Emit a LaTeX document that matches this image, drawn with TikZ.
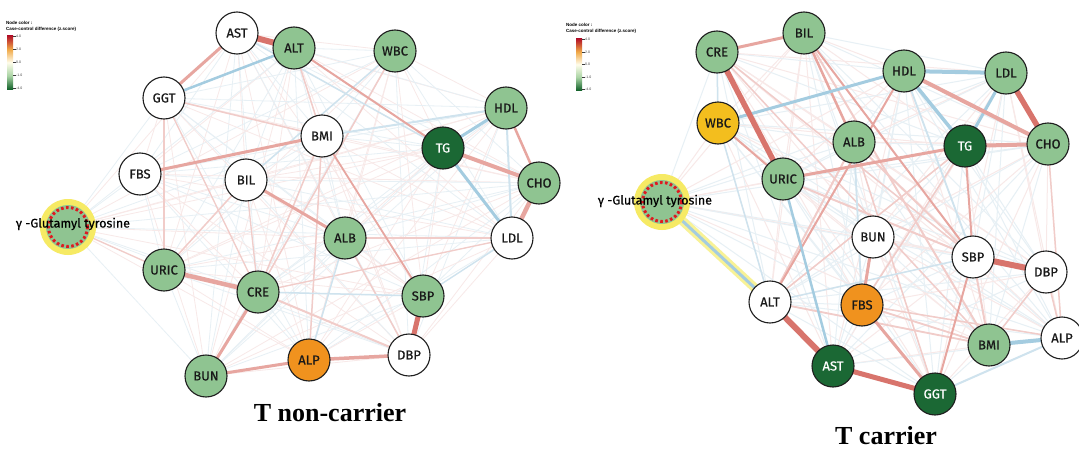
\documentclass[tikz,border=0pt]{standalone}
\usepackage{fontspec}
\setmainfont{Liberation Serif}
\newfontfamily\labfont{Fira Sans}[FakeBold=0.6]
\newfontfamily\legfont{Liberation Sans}
\usetikzlibrary{backgrounds}
\pgfdeclarelayer{bottom}
\pgfsetlayers{bottom,background,main}
\definecolor{ngreen}{RGB}{143,196,145}
\definecolor{ndark}{RGB}{27,104,52}
\definecolor{norange}{RGB}{240,146,30}
\definecolor{nyellow}{RGB}{243,190,30}
\definecolor{ndline}{RGB}{30,30,30}
\definecolor{eRD}{RGB}{216,116,108}
\definecolor{eRM}{RGB}{231,166,160}
\definecolor{eRL}{RGB}{241,204,201}
\definecolor{eBM}{RGB}{164,204,224}
\definecolor{eBL}{RGB}{207,227,238}
\definecolor{eRF}{RGB}{248,233,232}
\definecolor{eBF}{RGB}{231,240,245}
\definecolor{hyel}{RGB}{246,234,100}
\definecolor{hyelline}{RGB}{248,242,150}
\definecolor{gred}{RGB}{222,26,32}
\definecolor{zdg}{RGB}{22,100,45}
\definecolor{zlg}{RGB}{170,212,165}
\definecolor{zw}{RGB}{255,253,235}
\definecolor{zor}{RGB}{240,168,70}
\definecolor{zdr}{RGB}{180,20,40}
\definecolor{legtxt}{RGB}{60,60,60}
\pgfdeclareverticalshading{zscale}{100bp}{color(0bp)=(zdg); color(25bp)=(zdg); color(37.5bp)=(zlg); color(50bp)=(zw); color(62.5bp)=(zor); color(75bp)=(zdr); color(100bp)=(zdr)}
\tikzset{
  nd/.style={circle, draw=ndline, line width=1.1pt, minimum size=42pt, inner sep=0pt,
    font=\labfont\fontsize{13}{13}\selectfont, text=black!90},
  gn/.style={nd, fill=ngreen},
  dg/.style={nd, fill=ndark, text=white},
  wt/.style={nd, fill=white},
  og/.style={nd, fill=norange},
  yw/.style={nd, fill=nyellow},
  rD/.style={draw=eRD, line width=#1},
  rM/.style={draw=eRM, line width=#1},
  rL/.style={draw=eRL, line width=#1},
  bM/.style={draw=eBM, line width=#1},
  bL/.style={draw=eBL, line width=#1},
  gamring/.style={circle, fill=hyel, minimum size=56pt, inner sep=0pt},
  gamcore/.style={circle, fill=ngreen, minimum size=44pt, inner sep=0pt},
  gamdash/.style={gred, line width=3pt, dash pattern=on 2.6pt off 2.4pt},
  gamlab/.style={font=\labfont\fontsize{12.5}{12.5}\selectfont, text=black, inner sep=0pt},
  legtitle/.style={anchor=west, inner sep=0pt, font=\legfont\bfseries\fontsize{4.5}{4.5}\selectfont},
  legtick/.style={anchor=west, inner sep=0pt, text=legtxt, font=\legfont\fontsize{3.5}{3.5}\selectfont},
  ttl/.style={font=\fontsize{26}{26}\selectfont\bfseries, inner sep=0pt}
}
\begin{document}
\begin{tikzpicture}[x=1pt,y=-1pt]
\useasboundingbox (0,0) rectangle (1079,452);
\begin{pgfonlayer}{bottom}
\fill[white] (0,0) rectangle (1079,452);
\end{pgfonlayer}

% ---------------- left panel nodes ----------------
\node[wt] (LAST) at (237,33) {AST};
\node[gn] (LALT) at (294,48) {ALT};
\node[gn] (LWBC) at (395,51) {WBC};
\node[wt] (LGGT) at (164,98) {GGT};
\node[gn] (LHDL) at (506,108) {HDL};
\node[wt] (LBMI) at (322,136) {BMI};
\node[dg] (LTG) at (443,148) {TG};
\node[wt] (LFBS) at (140,174) {FBS};
\node[wt] (LBIL) at (246,180) {BIL};
\node[gn] (LCHO) at (539,183) {CHO};
\node[gn] (LALB) at (345,238) {ALB};
\node[wt] (LLDL) at (512,238) {LDL};
\node[gn] (LURIC) at (164,270) {URIC};
\node[gn] (LCRE) at (258,292) {CRE};
\node[gn] (LSBP) at (423,296) {SBP};
\node[wt] (LDBP) at (409,355) {DBP};
\node[og] (LALP) at (309,360) {ALP};
\node[gn] (LBUN) at (206,376) {BUN};
\node[gamring] (LgamR) at (68,227) {};
\node[gamcore] (Lgam) at (68,227) {};
\draw[gamdash] (Lgam.center) circle[radius=19.5pt];
\node[gamlab] (LgamT) at (73,224) {γ -Glutamyl tyrosine};

% ---------------- right panel nodes ----------------
\node[gn] (RBIL) at (804,33) {BIL};
\node[gn] (RCRE) at (717,52) {CRE};
\node[gn] (RHDL) at (904,71) {HDL};
\node[gn] (RLDL) at (1006,73) {LDL};
\node[yw] (RWBC) at (718,123) {WBC};
\node[gn] (RALB) at (854,142) {ALB};
\node[dg] (RTG) at (965,146) {TG};
\node[gn] (RCHO) at (1048,144) {CHO};
\node[gn] (RURIC) at (783,179) {URIC};
\node[wt] (RBUN) at (873,237) {BUN};
\node[wt] (RSBP) at (973,257) {SBP};
\node[wt] (RDBP) at (1046,272) {DBP};
\node[wt] (RALT) at (770,302) {ALT};
\node[og] (RFBS) at (862,305) {FBS};
\node[gn] (RBMI) at (989,345) {BMI};
\node[wt] (RALP) at (1062,338) {ALP};
\node[dg] (RAST) at (833,366) {AST};
\node[dg] (RGGT) at (935,394) {GGT};
\node[gamring] (RgamR) at (662,202) {};
\node[gamcore] (Rgam) at (662,202) {};
\draw[gamdash] (Rgam.center) circle[radius=19.5pt];
\node[gamlab] (RgamT) at (655,201) {γ -Glutamyl tyrosine};

% ---------------- edges ----------------
\begin{pgfonlayer}{background}
% faint web, left
\foreach \a [count=\i] in {LAST,LALT,LWBC,LGGT,LHDL,LBMI,LTG,LFBS,LBIL,LCHO,LALB,LLDL,LURIC,LCRE,LSBP,LDBP,LALP,LBUN,Lgam}{
  \foreach \b [count=\j] in {LAST,LALT,LWBC,LGGT,LHDL,LBMI,LTG,LFBS,LBIL,LCHO,LALB,LLDL,LURIC,LCRE,LSBP,LDBP,LALP,LBUN,Lgam}{
    \ifnum\j>\i
      \ifodd\numexpr\i+\j\relax
        \draw[eBF, line width=0.8pt] (\a.center) -- (\b.center);
      \else
        \draw[eRF, line width=0.8pt] (\a.center) -- (\b.center);
      \fi
    \fi
  }
}
% faint web, right
\foreach \a [count=\i] in {RBIL,RCRE,RHDL,RLDL,RWBC,RALB,RTG,RCHO,RURIC,RBUN,RSBP,RDBP,RALT,RFBS,RBMI,RALP,RAST,RGGT,Rgam}{
  \foreach \b [count=\j] in {RBIL,RCRE,RHDL,RLDL,RWBC,RALB,RTG,RCHO,RURIC,RBUN,RSBP,RDBP,RALT,RFBS,RBMI,RALP,RAST,RGGT,Rgam}{
    \ifnum\j>\i
      \ifodd\numexpr\i+\j\relax
        \draw[eBF, line width=1pt] (\a.center) -- (\b.center);
      \else
        \draw[eRF, line width=1pt] (\a.center) -- (\b.center);
      \fi
    \fi
  }
}
% left panel, visible edges
\draw[rL=1.5pt] (LGGT.center) -- (LURIC.center);
\draw[rL=1.5pt] (LGGT.center) -- (LBMI.center);
\draw[rL=1.3pt] (LGGT.center) -- (LCRE.center);
\draw[rL=1.5pt] (LWBC.center) -- (LCRE.center);
\draw[bL=1.5pt] (LWBC.center) -- (LBIL.center);
\draw[bL=1.5pt] (LAST.center) -- (LTG.center);
\draw[rL=1.5pt] (LALT.center) -- (LBMI.center);
\draw[rL=1.5pt] (LBMI.center) -- (LCRE.center);
\draw[rL=1.5pt] (LBMI.center) -- (LALP.center);
\draw[rL=1.5pt] (LBIL.center) -- (LURIC.center);
\draw[rL=1.3pt] (LBIL.center) -- (LCRE.center);
\draw[rL=1.3pt] (Lgam.center) -- (LURIC.center);
\draw[rL=1.3pt] (LALB.center) -- (LLDL.center);
\draw[rL=1.3pt] (LLDL.center) -- (LCRE.center);
\draw[bL=1.3pt] (LSBP.center) -- (LLDL.center);
\draw[rL=1.5pt] (LALB.center) -- (LDBP.center);
\draw[bL=1.5pt] (LALB.center) -- (LALP.center);
\draw[bL=1.5pt] (LCRE.center) -- (LSBP.center);
\draw[rL=2pt] (LCRE.center) -- (LDBP.center);
\draw[bL=2pt] (LBMI.center) -- (LHDL.center);
\draw[rM=1.8pt] (LBMI.center) -- (LSBP.center);
\draw[rM=2pt] (LALT.center) -- (LTG.center);
\draw[rM=3pt] (LFBS.center) -- (LBMI.center);
\draw[rM=3pt] (LBIL.center) -- (LALB.center);
\draw[rM=3pt] (LAST.center) -- (LGGT.center);
\draw[bM=2.5pt] (LGGT.center) -- (LALT.center);
\draw[bL=2pt] (LHDL.center) -- (LLDL.center);
\draw[rM=2.5pt] (LHDL.center) -- (LCHO.center);
\draw[bM=3pt] (LTG.center) -- (LHDL.center);
\draw[bM=3pt] (LTG.center) -- (LLDL.center);
\draw[rM=4pt] (LTG.center) -- (LCHO.center);
\draw[rM=4.5pt] (LCHO.center) -- (LLDL.center);
\draw[rM=4.5pt] (LURIC.center) -- (LCRE.center);
\draw[rM=3pt] (LCRE.center) -- (LBUN.center);
\draw[rM=3pt] (LBUN.center) -- (LALP.center);
\draw[rM=3.5pt] (LALP.center) -- (LDBP.center);
\draw[rD=5pt] (LSBP.center) -- (LDBP.center);
\draw[rD=6pt] (LAST.center) -- (LALT.center);

% right panel, visible edges
\draw[rL=1.5pt] (RCRE.center) -- (RSBP.center);
\draw[rL=1.5pt] (RCRE.center) -- (RBMI.center);
\draw[rL=1.5pt] (RALB.center) -- (RGGT.center);
\draw[rL=1.5pt] (RTG.center) -- (RALT.center);
\draw[rL=1.5pt] (RTG.center) -- (RFBS.center);
\draw[rL=1.5pt] (RDBP.center) -- (RALP.center);
\draw[rL=1.5pt] (RDBP.center) -- (RBMI.center);
\draw[rL=1.5pt] (RCHO.center) -- (RALP.center);
\draw[rL=1.8pt] (RFBS.center) -- (RBMI.center);
\draw[rL=1.8pt] (RALT.center) -- (RBMI.center);
\draw[rL=1.5pt] (RFBS.center) -- (RALP.center);
\draw[rL=2pt] (RURIC.center) -- (RSBP.center);
\draw[rL=2pt] (RALB.center) -- (RSBP.center);
\draw[rL=2pt] (RSBP.center) -- (RBMI.center);
\draw[rL=2pt] (RALB.center) -- (RALT.center);
\draw[rL=2pt] (RBIL.center) -- (RBMI.center);
\draw[bL=1.5pt] (RWBC.center) -- (RALT.center);
\draw[bL=1.8pt] (RALB.center) -- (RFBS.center);
\draw[bL=1.8pt] (RHDL.center) -- (RSBP.center);
\draw[bL=1.5pt] (RALT.center) -- (RSBP.center);
\draw[bL=1.5pt] (RWBC.center) -- (RCRE.center);
\draw[rM=2pt] (RBIL.center) -- (RSBP.center);
\draw[rM=2pt] (RHDL.center) -- (RALT.center);
\draw[rM=2pt] (RTG.center) -- (RSBP.center);
\draw[rM=2pt] (RSBP.center) -- (RGGT.center);
\draw[rM=2pt] (RWBC.center) -- (RURIC.center);
\draw[rM=2.5pt] (RBIL.center) -- (RALB.center);
\draw[rM=3pt] (RURIC.center) -- (RTG.center);
\draw[rM=3pt] (RBUN.center) -- (RFBS.center);
\draw[rM=3pt] (RFBS.center) -- (RGGT.center);
\draw[rM=3pt] (RCRE.center) -- (RBIL.center);
\draw[bM=2.5pt] (RURIC.center) -- (RAST.center);
\draw[bM=3pt] (RWBC.center) -- (RHDL.center);
\draw[bL=2pt] (RGGT.center) -- (RALP.center);
\draw[bM=4pt] (RBMI.center) -- (RALP.center);
\draw[bM=4pt] (RHDL.center) -- (RLDL.center);
\draw[bM=3.5pt] (RHDL.center) -- (RTG.center);
\draw[bM=3pt] (RLDL.center) -- (RTG.center);
\draw[rM=4pt] (RHDL.center) -- (RCHO.center);
\draw[rM=4pt] (RTG.center) -- (RCHO.center);
\draw[rD=5.5pt] (RLDL.center) -- (RCHO.center);
\draw[rD=5.5pt] (RCRE.center) -- (RURIC.center);
\draw[rD=6pt] (RSBP.center) -- (RDBP.center);
\draw[rD=6pt] (RALT.center) -- (RAST.center);
\draw[rD=5pt] (RAST.center) -- (RGGT.center);
\draw[draw=hyelline, line width=9pt] (Rgam.center) -- (RALT.center);
\draw[bM=3pt] (Rgam.center) -- (RALT.center);
\end{pgfonlayer}

% ---------------- legends ----------------
\node[legtitle] (LlegA) at (6,23) {Node color :};
\node[legtitle] (LlegB) at (6,29) {Case-control difference (z.score)};
\shade[shading=zscale] (7,36) rectangle (13,89);
\foreach \yy/\tt [count=\k] in {36.5/4.0,49.5/2.0,62.5/0.0,75.5/-1.0,88.5/-4.0}{
  \draw[legtxt, line width=0.3pt] (13,\yy) -- (15.5,\yy);
  \node[legtick] (Ltick\k) at (16,\yy) {\tt};
}
\node[legtitle] (RlegA) at (566,25) {Node color :};
\node[legtitle] (RlegB) at (566,31) {Case-control difference (z.score)};
\shade[shading=zscale] (576,39) rectangle (582,90);
\foreach \yy/\tt [count=\k] in {39.5/4.0,52/2.0,64.5/0.0,77/-1.0,89.5/-4.0}{
  \draw[legtxt, line width=0.3pt] (582,\yy) -- (584.5,\yy);
  \node[legtick] (Rtick\k) at (585,\yy) {\tt};
}

% ---------------- titles ----------------
\node[ttl] (T1) at (330,413) {T non-carrier};
\node[ttl] (T2) at (886,436) {T carrier};
\end{tikzpicture}
\end{document}
